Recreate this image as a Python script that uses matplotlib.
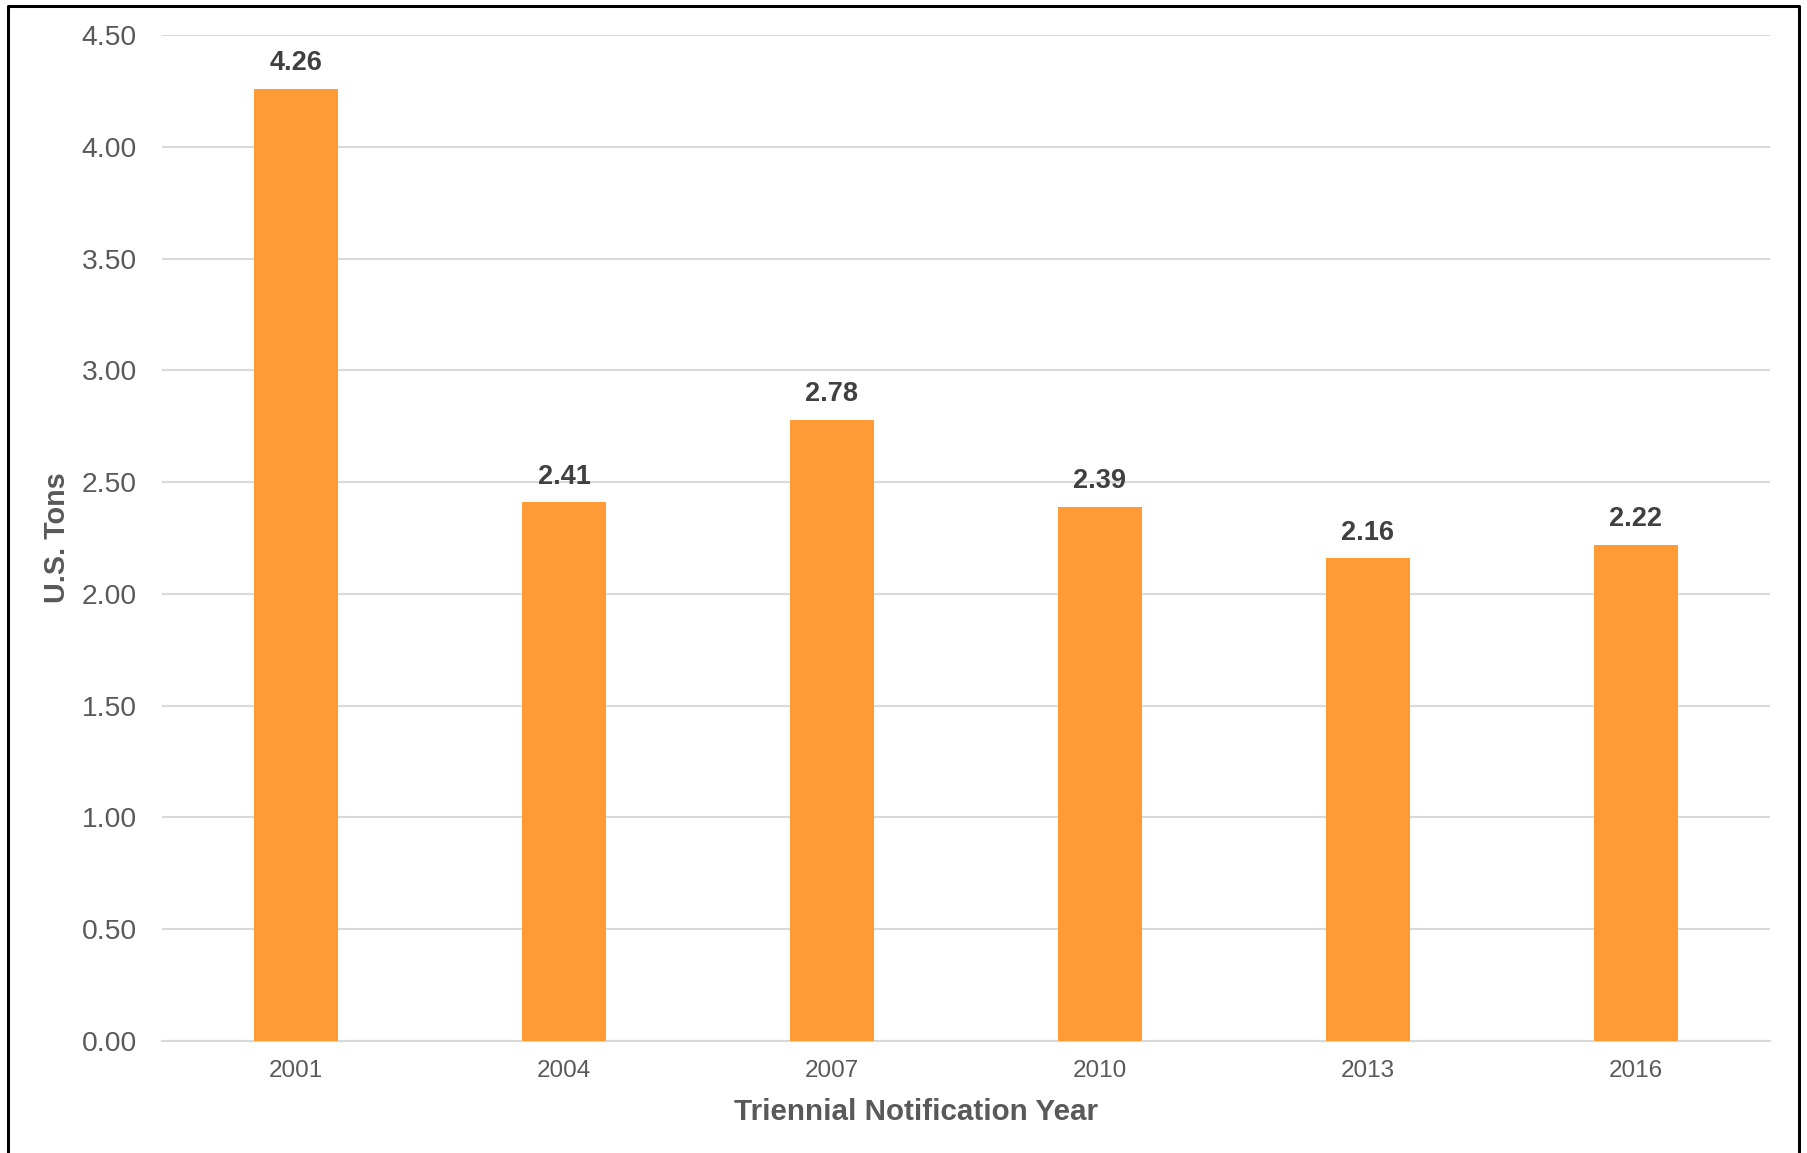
import matplotlib.pyplot as plt
from matplotlib.lines import Line2D

plt.rcParams['font.family'] = ['Liberation Sans', 'DejaVu Sans']

years = ['2001', '2004', '2007', '2010', '2013', '2016']
tons = [4.26, 2.41, 2.78, 2.39, 2.16, 2.22]
y_ticks = [0.0, 0.5, 1.0, 1.5, 2.0, 2.5, 3.0, 3.5, 4.0, 4.5]

W, H = 1808, 1153
fig = plt.figure(figsize=(W / 100, H / 100), dpi=100)
ax = fig.add_axes([162 / W, 1 - 1041 / H, (1770 - 162) / W, (1041 - 35) / H])

x = range(len(years))
ax.bar(x, tons, width=0.313, color='#FF9B36', zorder=3)
for xi, v in zip(x, tons):
    ax.annotate(f'{v:.2f}', (xi, v), xytext=(0, 9), textcoords='offset points',
                ha='center', va='bottom', fontsize=19.5, fontweight='bold', color='#404040')

ax.set_xlim(-0.5, len(years) - 0.5)
ax.set_ylim(0, 4.5)
ax.set_yticks(y_ticks)
ax.set_yticklabels([f'{t:.2f}' for t in y_ticks])
ax.set_xticks(list(x))
ax.set_xticklabels(years)
ax.tick_params(axis='y', length=0, pad=18, labelsize=20.3, labelcolor='#595959')
ax.tick_params(axis='x', length=0, pad=14, labelsize=17.5, labelcolor='#595959')
ax.grid(axis='y', color='#d9d9d9', linewidth=1.5, zorder=0)
for s in ['top', 'right', 'left']:
    ax.spines[s].set_visible(False)
ax.spines['bottom'].set_color('#d9d9d9')
ax.spines['bottom'].set_linewidth(1.5)

fig.text(916 / W, 1 - 1112 / H, 'Triennial Notification Year', ha='center', va='center',
         fontsize=21.3, fontweight='bold', color='#595959')
fig.text(57 / W, 1 - 538 / H, 'U.S. Tons', ha='center', va='center', rotation=90,
         fontsize=20.7, fontweight='bold', color='#595959')

# frame around the picture (left, top, right)
fig.add_artist(Line2D([8 / W, 8 / W, 1799 / W, 1799 / W], [0, 1 - 6 / H, 1 - 6 / H, 0],
                      transform=fig.transFigure, color='black', linewidth=2.2))

fig.savefig('out.png', dpi=100, facecolor='white')
